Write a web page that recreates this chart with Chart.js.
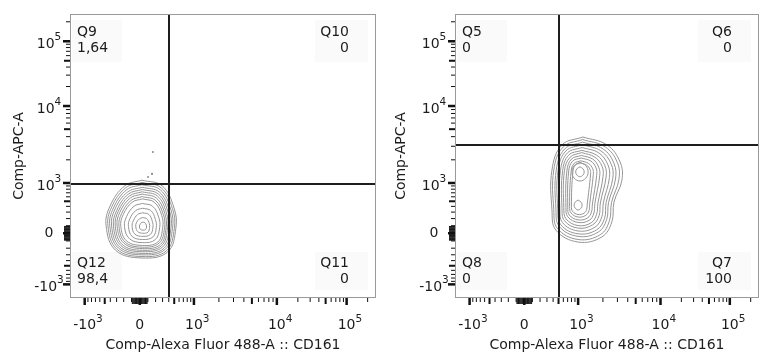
<!DOCTYPE html>
<html>
<head>
<meta charset="utf-8">
<script src="https://cdn.jsdelivr.net/npm/chart.js@4.4.0/dist/chart.umd.min.js"></script>
<style>
  html, body { margin: 0; padding: 0; background: #fff; }
  #wrap { position: relative; width: 761px; height: 361px; }
  canvas { position: absolute; top: 0; }
  #left { left: 0; }
  #right { left: 380px; }
</style>
</head>
<body>
<div id="wrap">
  <canvas id="left" width="380" height="361"></canvas>
  <canvas id="right" width="381" height="361"></canvas>
</div>
<script>
// Both axes use display channel units 0..1000 (biexponential display)
const tickValues = [-1000, 0, 1000, 10000, 100000];
const tickPos = [48, 228, 405, 676, 904];
const tickBase = ['-10', '0', '10', '10', '10'];
const tickExp = ['3', '', '3', '4', '5'];

const xTitle = 'Comp-Alexa Fluor 488-A :: CD161';
const yTitle = 'Comp-APC-A';

// Left plot (gates Q9..Q12)
const leftGateX = 324;
const leftGateY = 401;
const leftQuadNames = ['Q9', 'Q10', 'Q11', 'Q12'];
const leftQuadValues = ['1,64', '0', '0', '98,4'];
const leftContours = [
  [[235,415],[301,395],[340,317],[346,246],[319,162],[235,141],[149,168],[118,254],[131,324],[179,395]],
  [[235,407],[298,388],[335,314],[341,246],[315,166],[235,146],[153,172],[124,254],[136,320],[182,388]],
  [[235,399],[295,381],[330,310],[335,246],[311,171],[235,152],[158,176],[130,254],[142,317],[185,381]],
  [[236,390],[292,373],[325,307],[330,247],[307,175],[236,157],[162,180],[136,253],[147,313],[188,373]],
  [[236,382],[289,366],[320,304],[325,247],[303,180],[236,163],[167,184],[142,253],[153,309],[191,366]],
  [[236,374],[286,359],[315,300],[319,247],[299,184],[236,168],[171,188],[148,253],[158,306],[194,359]],
  [[236,366],[282,352],[310,297],[314,247],[295,188],[236,174],[176,193],[154,253],[163,302],[197,352]],
  [[236,357],[279,344],[305,294],[309,247],[291,193],[236,179],[180,197],[160,253],[169,298],[200,344]],
  [[237,349],[276,337],[300,290],[303,248],[287,197],[237,185],[185,201],[166,252],[174,294],[203,337]],
  [[237,333],[270,323],[290,284],[293,248],[279,206],[237,195],[194,209],[178,252],[185,287],[209,323]],
  [[237,316],[264,308],[279,277],[282,248],[271,215],[237,206],[203,217],[191,252],[196,280],[215,308]],
  [[238,300],[258,294],[269,270],[271,249],[263,224],[238,217],[212,225],[203,251],[207,272],[221,294]],
  [[238,283],[251,279],[259,263],[260,249],[255,232],[238,228],[221,234],[215,251],[217,265],[227,279]],
  [[239,267],[245,265],[249,257],[250,250],[247,241],[239,239],[230,242],[227,250],[228,257],[233,265]]
];
const leftDots = [[271,514],[268,437],[255,426]];

// Right plot (gates Q5..Q8)
const rightGateX = 342;
const rightGateY = 539;
const rightQuadNames = ['Q5', 'Q6', 'Q7', 'Q8'];
const rightQuadValues = ['0', '0', '100', '0'];
const rightContours = [
  [[421,567],[500,539],[543,479],[549,415],[523,338],[516,268],[483,215],[405,197],[332,239],[319,310],[319,451],[352,539]],
  [[420,558],[494,532],[534,477],[539,417],[515,337],[508,272],[478,223],[405,206],[337,245],[325,311],[325,451],[356,532]],
  [[420,549],[487,525],[523,474],[528,419],[505,336],[499,277],[471,232],[405,217],[343,252],[332,313],[333,450],[361,525]],
  [[419,540],[480,518],[514,471],[519,421],[497,336],[492,281],[466,240],[405,226],[348,258],[338,314],[339,449],[365,518]],
  [[418,530],[473,511],[503,469],[508,424],[488,335],[483,286],[460,249],[405,236],[354,265],[345,315],[347,449],[370,511]],
  [[417,520],[466,503],[493,466],[497,426],[478,334],[474,290],[453,258],[405,246],[360,272],[352,316],[354,448],[374,503]],
  [[417,512],[460,496],[484,463],[487,428],[470,333],[466,295],[448,265],[405,255],[365,279],[358,318],[360,448],[379,496]],
  [[416,502],[453,489],[473,460],[476,430],[460,332],[457,299],[442,274],[405,266],[371,286],[365,319],[368,447],[383,489]],
  [[415,493],[447,482],[464,458],[466,432],[452,331],[449,303],[436,282],[405,275],[376,292],[371,320],[374,447],[387,482]],
  [[414,483],[439,474],[453,455],[455,435],[443,331],[441,308],[430,291],[405,285],[382,299],[377,322],[382,446],[392,474]],
  [[414,475],[433,468],[444,453],[446,437],[435,330],[433,312],[425,299],[405,294],[387,305],[383,323],[388,446],[396,468]],
  [[411,478],[430,466],[438,444],[430,422],[411,412],[392,422],[385,444],[392,466]],
  [[411,462],[421,455],[425,444],[421,433],[411,427],[401,433],[397,444],[401,455]],
  [[405,345],[415,337],[418,327],[415,317],[405,310],[395,317],[392,327],[395,337]]
];

const FONT = 'DejaVu Sans';
const TEXT = '#1c1c1c';

// value -> display units, used only to place the minor axis ticks
function toDisplay(v) {
  if (v === 0) return tickPos[1];
  if (Math.abs(v) < 1000) {
    const end = v > 0 ? tickPos[2] : tickPos[0];
    return tickPos[1] + (end - tickPos[1]) * Math.asinh(Math.abs(v) / 400) / Math.asinh(2.5);
  }
  if (v < 0) return tickPos[0];
  const lg = Math.log10(v);
  if (lg <= 4) return tickPos[2] + (tickPos[3] - tickPos[2]) * (lg - 3);
  return tickPos[3] + (tickPos[4] - tickPos[3]) * (lg - 4);
}

// axis tick marks: major, medium (5x), minor, dense block round zero
const axisMarks = [];
tickValues.forEach(v => axisMarks.push({ v, len: 7, w: 2.5 }));
for (let k = 1; k <= 9; k++) {
  axisMarks.push({ v: k * 10, len: 6, w: 1 }, { v: -k * 10, len: 6, w: 1 });
  const m = k === 5 ? { len: 6, w: 2 } : { len: 4, w: 1 };
  axisMarks.push({ v: k * 100, ...m }, { v: -k * 100, ...m });
  if (k > 1) {
    axisMarks.push({ v: k * 1000, ...m }, { v: k * 10000, ...m });
  }
}
axisMarks.push({ v: 200000, len: 4, w: 1 });

const flowPlugin = {
  id: 'flow',
  beforeDatasetsDraw(chart, args, opts) {
    const ctx = chart.ctx, a = chart.chartArea;
    ctx.save();
    ctx.fillStyle = '#fafafa';
    ctx.fillRect(a.left + 2, a.top + 6, 50, 42);
    ctx.fillRect(a.right - 61, a.top + 6, 53, 42);
    ctx.fillRect(a.right - 61, a.bottom - 46, 53, 38);
    ctx.fillRect(a.left + 2, a.bottom - 46, 50, 38);
    ctx.restore();
  },
  afterDatasetsDraw(chart, args, opts) {
    const ctx = chart.ctx, a = chart.chartArea;
    const xs = chart.scales.x, ys = chart.scales.y;
    ctx.save();
    ctx.strokeStyle = '#1e1e1e';
    ctx.lineWidth = 2;
    const gx = Math.round(xs.getPixelForValue(opts.gateX));
    const gy = Math.round(ys.getPixelForValue(opts.gateY));
    ctx.beginPath();
    ctx.moveTo(gx, a.top);
    ctx.lineTo(gx, a.bottom);
    ctx.moveTo(a.left, gy);
    ctx.lineTo(a.right, gy);
    ctx.stroke();
    ctx.restore();
  },
  afterDraw(chart, args, opts) {
    const ctx = chart.ctx, a = chart.chartArea;
    const xs = chart.scales.x, ys = chart.scales.y;
    ctx.save();
    // frame
    ctx.strokeStyle = '#9a9a9a';
    ctx.lineWidth = 1;
    ctx.strokeRect(a.left + 0.5, a.top + 0.5, a.right - a.left - 1, a.bottom - a.top - 1);

    // tick marks
    ctx.fillStyle = '#111';
    axisMarks.forEach(t => {
      const d = toDisplay(t.v);
      if (d < 0 || d > 1000) return;
      const px = xs.getPixelForValue(d);
      ctx.fillRect(px - t.w / 2, a.bottom, t.w, t.len);
      const py = ys.getPixelForValue(d);
      ctx.fillRect(a.left - t.len, py - t.w / 2, t.len, t.w);
    });

    // tick labels with superscript exponents
    const baseFont = '14px "' + FONT + '"';
    const expFont = '10.5px "' + FONT + '"';
    ctx.fillStyle = TEXT;
    ctx.textBaseline = 'middle';
    tickPos.forEach((p, i) => {
      const base = tickBase[i], exp = tickExp[i];
      ctx.font = baseFont;
      const bw = ctx.measureText(base).width;
      ctx.font = expFont;
      const ew = exp ? ctx.measureText(exp).width : 0;

      // x axis: base centred on tick
      const px = xs.getPixelForValue(p);
      const ly = a.bottom + 27;
      ctx.textAlign = 'left';
      ctx.font = baseFont;
      ctx.fillText(base, px - bw / 2, ly);
      if (exp) {
        ctx.font = expFont;
        ctx.fillText(exp, px + bw / 2, ly - 6);
      }

      // y axis: whole label centred left of the frame
      const py = ys.getPixelForValue(p);
      const cx = a.left - 21;
      const x0 = cx - (bw + ew) / 2;
      ctx.font = baseFont;
      ctx.fillText(base, x0, exp ? py + 3 : py);
      if (exp) {
        ctx.font = expFont;
        ctx.fillText(exp, x0 + bw, py - 4);
      }
    });

    // quadrant names and percentages
    ctx.font = baseFont;
    const spots = [
      { x: a.left + 7, y: a.top + 18, align: 'left' },
      { x: a.right - 27, y: a.top + 18, align: 'right' },
      { x: a.right - 27, y: a.bottom - 35, align: 'right' },
      { x: a.left + 7, y: a.bottom - 35, align: 'left' }
    ];
    spots.forEach((s, i) => {
      ctx.textAlign = s.align;
      ctx.fillText(opts.names[i], s.x, s.y);
      ctx.fillText(opts.values[i], s.x, s.y + 16);
    });
    ctx.restore();
  }
};

function makeChart(id, rings, dots, gateX, gateY, names, values, yWidth, padRight, yTitlePad) {
  const datasets = rings.map(ring => ({
    data: ring.concat([ring[0]]).map(p => ({ x: p[0], y: p[1] })),
    showLine: true,
    borderColor: '#959595',
    borderWidth: 1,
    pointRadius: 0,
    tension: 0.4,
    fill: false
  }));
  if (dots) {
    datasets.push({
      data: dots.map(p => ({ x: p[0], y: p[1] })),
      showLine: false,
      pointRadius: 0.8,
      pointBorderWidth: 0,
      pointBackgroundColor: '#333'
    });
  }
  return new Chart(document.getElementById(id).getContext('2d'), {
    type: 'scatter',
    data: { datasets },
    options: {
      responsive: false,
      animation: false,
      devicePixelRatio: 1,
      events: [],
      layout: { padding: { left: 0, right: padRight, top: 14, bottom: 0 } },
      plugins: {
        legend: { display: false },
        tooltip: { enabled: false },
        flow: { gateX, gateY, names, values }
      },
      scales: {
        x: {
          type: 'linear', min: 0, max: 1000,
          grid: { display: false, drawTicks: false },
          border: { display: false },
          ticks: { display: false },
          title: { display: true, text: xTitle, color: TEXT, font: { family: FONT, size: 14 }, padding: { top: 0, bottom: 7 } },
          afterFit: s => { s.height = 63; }
        },
        y: {
          type: 'linear', min: 0, max: 1000,
          grid: { display: false, drawTicks: false },
          border: { display: false },
          ticks: { display: false },
          title: { display: true, text: yTitle, color: TEXT, font: { family: FONT, size: 14 }, padding: { top: yTitlePad, bottom: 0 } },
          afterFit: s => { s.width = yWidth; }
        }
      }
    },
    plugins: [flowPlugin]
  });
}

makeChart('left', leftContours, leftDots, leftGateX, leftGateY, leftQuadNames, leftQuadValues, 70, 4, 11);
makeChart('right', rightContours, null, rightGateX, rightGateY, rightQuadNames, rightQuadValues, 75, 2, 13);
</script>
</body>
</html>
